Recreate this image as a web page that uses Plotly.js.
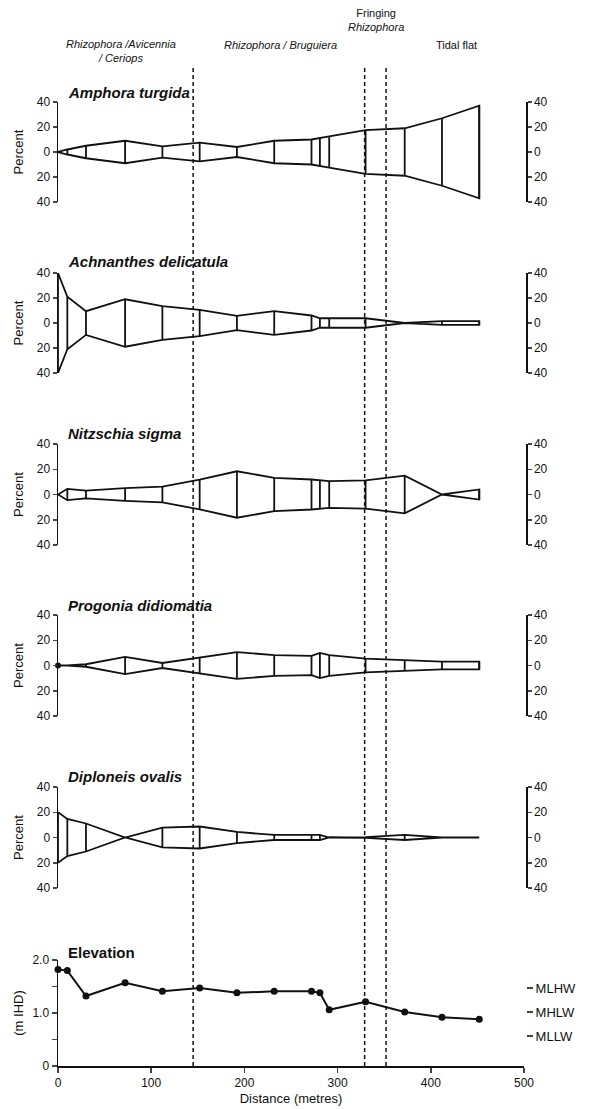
<!DOCTYPE html>
<html><head><meta charset="utf-8">
<script src="https://cdn.plot.ly/plotly-3.0.1.min.js"></script>
<style>html,body{margin:0;padding:0;background:#fff}</style>
</head><body><div id="chart" style="width:589px;height:1109px"></div>
<script>
const distances = [0, 10, 30, 72, 112, 152, 192, 232, 272, 281, 291, 330, 372, 412, 452];
const species = ['Amphora turgida', 'Achnanthes delicatula', 'Nitzschia sigma', 'Progonia didiomatia', 'Diploneis ovalis'];
const amphora    = [0, 2, 5, 9, 4.5, 7.5, 4, 9, 10, 11, 12.5, 17.5, 19, 27, 37];
const achnanthes = [40, 21, 9.5, 19, 13.5, 10.5, 5.7, 9.5, 6, 3.8, 3.8, 3.8, 0, 1.5, 1.5];
const nitzschia  = [0, 4.5, 3, 5, 6.3, 11.8, 18.4, 13.2, 11.9, 11.3, 10.6, 11.2, 14.9, 0, 4];
const progonia   = [0, 0, 1, 6.8, 2, 6.3, 10.6, 8.2, 7.7, 10, 8.2, 5.5, 4.4, 3.1, 3.1];
const diploneis  = [20, 14.7, 11.1, 0, 7.9, 8.7, 4.4, 2, 2, 2, 0, 0.3, 2, 0, 0];
const elevation  = [1.82, 1.80, 1.32, 1.57, 1.41, 1.47, 1.38, 1.41, 1.41, 1.38, 1.06, 1.21, 1.02, 0.92, 0.88];
const zoneBoundaries = [145, 329, 352];
const zoneLabels = ['<i>Rhizophora /Avicennia</i><br><i>/ Ceriops</i>', '<i>Rhizophora / Bruguiera</i>', 'Fringing<br><i>Rhizophora</i>', 'Tidal flat'];
const tidalLevels = [1.47, 1.01, 0.56];
const tidalLabels = ['MLHW', 'MHLW', 'MLLW'];
const percentTicks = [-40, -20, 0, 20, 40];
const percentTickText = ['40', '20', '0', '20', '40'];
const elevTicks = [0, 0.5, 1, 1.5, 2];
const elevTickText = ['0', '', '1.0', '', '2.0'];
const distTicks = [0, 100, 200, 300, 400, 500];

const kiteData = [amphora, achnanthes, nitzschia, progonia, diploneis];

const H = 1109, W = 589, ML = 58, MR = 20;
const PW = W - ML - MR;
const px2x = p => (p - ML) / PW;
const py = p => 1 - p / H;
const FONT = '"Liberation Sans Narrow", "Liberation Sans", Arial, sans-serif';
const panelPx = [[102, 202], [273, 373], [444, 545], [615, 716], [787, 888]];
const elevPx = [960, 1066];
const titlePx = [92, 262, 434, 605, 776];
const xDomEnd = px2x(524);
const rightPos = px2x(526);

const traces = [];
const layout = {
  width: W, height: H,
  margin: {l: ML, r: MR, t: 0, b: 0},
  paper_bgcolor: '#fff', plot_bgcolor: 'rgba(0,0,0,0)',
  showlegend: false,
  font: {family: FONT, size: 12, color: '#111'},
  xaxis: {
    domain: [0, xDomEnd], range: [0, 500], anchor: 'y6',
    showgrid: false, zeroline: false, showline: true, linewidth: 1.5, linecolor: '#111',
    ticks: 'outside', ticklen: 5, tickwidth: 1.5, tickvals: distTicks,
    tickfont: {family: FONT, size: 12, color: '#111'},
    title: {text: 'Distance (metres)', font: {family: FONT, size: 13, color: '#111'}, standoff: 5}
  },
  shapes: [], annotations: []
};

kiteData.forEach((vals, i) => {
  const n = i + 1;
  const yname = n === 1 ? 'y' : 'y' + n;
  const ykey = n === 1 ? 'yaxis' : 'yaxis' + n;
  const polyX = distances.concat(distances.slice().reverse());
  const polyY = vals.concat(vals.map(v => -v).reverse());
  traces.push({type: 'scatter', mode: 'lines', x: polyX, y: polyY, xaxis: 'x', yaxis: yname,
    fill: 'toself', fillcolor: 'rgba(255,255,255,0)', line: {color: '#111', width: 1.8}, cliponaxis: false, hoverinfo: 'skip'});
  const vx = [], vy = [];
  distances.forEach((d, j) => { if (vals[j] > 0) { vx.push(d, d, null); vy.push(vals[j], -vals[j], null); } });
  traces.push({type: 'scatter', mode: 'lines', x: vx, y: vy, xaxis: 'x', yaxis: yname,
    line: {color: '#111', width: 1.8}, cliponaxis: false, hoverinfo: 'skip'});
  const dom = [py(panelPx[i][1]), py(panelPx[i][0])];
  layout[ykey] = {
    domain: dom, range: [-40, 40], anchor: 'x',
    showgrid: false, zeroline: false, showline: true, linewidth: 1.5, linecolor: '#111',
    ticks: 'outside', ticklen: 4, tickwidth: 1.5, tickvals: percentTicks, ticktext: percentTickText,
    tickfont: {family: FONT, size: 12, color: '#111'},
    title: {text: 'Percent', font: {family: FONT, size: 13, color: '#111'}, standoff: 10}
  };
  const rn = n + 6;
  layout['yaxis' + rn] = {
    overlaying: yname, side: 'right', anchor: 'free', position: rightPos, range: [-40, 40],
    showgrid: false, zeroline: false, showline: true, linewidth: 1.5, linecolor: '#111',
    ticks: 'outside', ticklen: 4, tickwidth: 1.5, tickvals: percentTicks, ticktext: percentTickText,
    tickfont: {family: FONT, size: 12, color: '#111'}
  };
  traces.push({type: 'scatter', mode: 'markers', x: [0], y: [0], xaxis: 'x', yaxis: 'y' + rn,
    marker: {opacity: 0}, hoverinfo: 'skip'});
  layout.annotations.push({xref: 'paper', yref: 'paper', x: px2x(66), y: py(titlePx[i]), xanchor: 'left', yanchor: 'middle',
    text: '<b><i>' + species[i] + '</i></b>', showarrow: false, font: {family: FONT, size: 15, color: '#111'}});
});

// Progonia point at the origin
traces.push({type: 'scatter', mode: 'markers', x: [distances[0]], y: [progonia[0]], xaxis: 'x', yaxis: 'y4',
  marker: {color: '#111', size: 6}, cliponaxis: false, hoverinfo: 'skip'});

// Elevation
traces.push({type: 'scatter', mode: 'lines+markers', x: distances, y: elevation, xaxis: 'x', yaxis: 'y6',
  line: {color: '#111', width: 2}, marker: {color: '#111', size: 7}, cliponaxis: false, hoverinfo: 'skip'});
layout.yaxis6 = {
  domain: [py(elevPx[1]), py(elevPx[0])], range: [0, 2], anchor: 'x',
  showgrid: false, zeroline: false, showline: true, linewidth: 1.5, linecolor: '#111',
  ticks: 'outside', ticklen: 5, tickwidth: 1.5, tickvals: elevTicks, ticktext: elevTickText,
  tickfont: {family: FONT, size: 12, color: '#111'},
  title: {text: '(m IHD)', font: {family: FONT, size: 13, color: '#111'}, standoff: 6}
};
layout.yaxis12 = {
  overlaying: 'y6', side: 'right', anchor: 'free', position: rightPos, range: [0, 2],
  showgrid: false, zeroline: false, showline: false,
  ticks: 'outside', ticklen: 6, tickwidth: 2, tickvals: tidalLevels, ticktext: tidalLabels,
  tickfont: {family: FONT, size: 13, color: '#111'}
};
traces.push({type: 'scatter', mode: 'markers', x: [0], y: [0], xaxis: 'x', yaxis: 'y12', marker: {opacity: 0}, hoverinfo: 'skip'});
layout.annotations.push({xref: 'paper', yref: 'paper', x: px2x(66), y: py(952), xanchor: 'left', yanchor: 'middle',
  text: '<b>Elevation</b>', showarrow: false, font: {family: FONT, size: 15, color: '#111'}});

// Zone boundaries
zoneBoundaries.forEach(b => {
  layout.shapes.push({type: 'line', xref: 'x', yref: 'paper', x0: b, x1: b, y0: py(1066), y1: py(67),
    line: {color: '#111', width: 1.5, dash: '4px,3px'}, layer: 'above'});
});

// Zone labels
const zonePos = [[121, 51], [280, 45], [376, 20], [456, 45]];
zoneLabels.forEach((t, i) => {
  layout.annotations.push({xref: 'paper', yref: 'paper', x: px2x(zonePos[i][0]), y: py(zonePos[i][1]),
    xanchor: 'center', yanchor: 'middle', text: t, showarrow: false,
    font: {family: FONT, size: 11, color: '#111'}});
});

Plotly.newPlot('chart', traces, layout, {staticPlot: true, displayModeBar: false});
</script>
</body></html>
